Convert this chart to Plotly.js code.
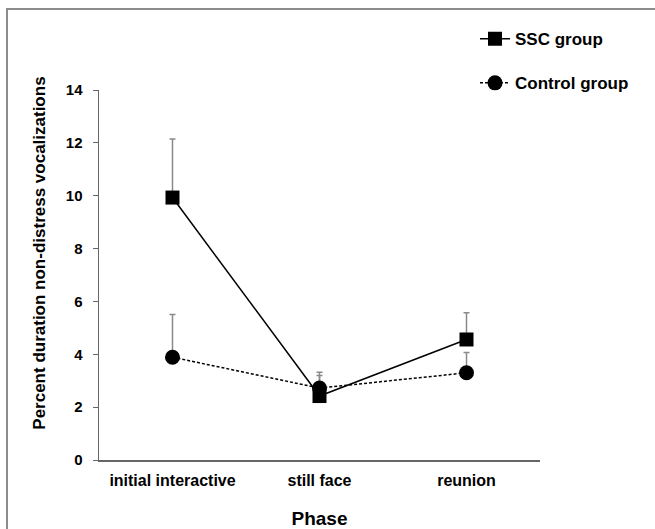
<!DOCTYPE html>
<html>
<head>
<meta charset="utf-8">
<script src="https://cdn.plot.ly/plotly-3.0.1.min.js"></script>
<style>
html,body{margin:0;padding:0;background:#fff;}
#chart{width:655px;height:529px;}
</style>
</head>
<body>
<div id="chart"></div>
<script>
var phases = ["initial interactive", "still face", "reunion"];
var sscMeans = [9.93, 2.42, 4.56];
var sscErrUp = [2.22, 0.78, 1.01];
var controlMeans = [3.89, 2.72, 3.30];
var controlErrUp = [1.62, 0.60, 0.77];
var yTicks = [0, 2, 4, 6, 8, 10, 12, 14];

var FONT = "Liberation Sans, Arial, sans-serif";

var traces = [
  {
    x: phases, y: sscMeans, name: "SSC group", type: "scatter", mode: "lines+markers",
    legendgroup: "a",
    line: {color: "#000", width: 1.5, dash: "solid"},
    marker: {symbol: "square", size: 14, color: "#000"},
    error_y: {type: "data", symmetric: false, array: sscErrUp, arrayminus: [0,0,0],
              color: "#8a8a8a", thickness: 1.5, width: 3}
  },
  {
    x: phases, y: controlMeans, name: "Control group", type: "scatter", mode: "lines+markers",
    legendgroup: "b",
    line: {color: "#000", width: 1.5, dash: "3px,2px"},
    marker: {symbol: "circle", size: 15, color: "#000"},
    error_y: {type: "data", symmetric: false, array: controlErrUp, arrayminus: [0,0,0],
              color: "#8a8a8a", thickness: 1.5, width: 3}
  }
];

var layout = {
  width: 655, height: 529,
  margin: {l: 99, r: 115, t: 90, b: 69, pad: 0, autoexpand: false},
  paper_bgcolor: "#fff", plot_bgcolor: "#fff",
  font: {family: FONT, color: "#000"},
  showlegend: true,
  legend: {x: 0.8526, y: 1.186, xanchor: "left", yanchor: "top",
           font: {family: FONT, size: 17, color: "#000", weight: "bold"},
           tracegroupgap: 19, bgcolor: "rgba(0,0,0,0)"},
  xaxis: {
    type: "category", range: [-0.5, 2.5], automargin: false,
    showline: true, linecolor: "#666", linewidth: 1.5,
    showgrid: false, zeroline: false, ticks: "",
    tickfont: {family: FONT, size: 16, weight: "bold", color: "#000"},
    ticklabelstandoff: 5,
    title: {text: "Phase", font: {family: FONT, size: 19, weight: "bold", color: "#000"}, standoff: 26}
  },
  yaxis: {
    range: [0, 14], tickvals: yTicks, ticktext: yTicks.map(String), automargin: false,
    showline: true, linecolor: "#666", linewidth: 1.5,
    showgrid: false, zeroline: false,
    ticks: "outside", ticklen: 5, tickcolor: "#666", tickwidth: 1,
    tickfont: {family: FONT, size: 15, weight: "bold", color: "#000"},
    ticklabelstandoff: 7,
    title: {text: ""}
  },
  annotations: [{
    text: "Percent duration non-distress vocalizations",
    xref: "paper", yref: "paper", x: -0.134, y: 0.56, xanchor: "center", yanchor: "middle",
    textangle: -90, showarrow: false,
    font: {family: FONT, size: 17, weight: "bold", color: "#000"}
  }],
  shapes: [{
    type: "path", xref: "paper", yref: "paper",
    path: "M -0.2086 -0.3 L -0.2086 1.2189 L 1.5 1.2189",
    line: {color: "#8c8c8c", width: 2}
  }]
};

Plotly.newPlot("chart", traces, layout, {displayModeBar: false, staticPlot: true});
</script>
</body>
</html>
